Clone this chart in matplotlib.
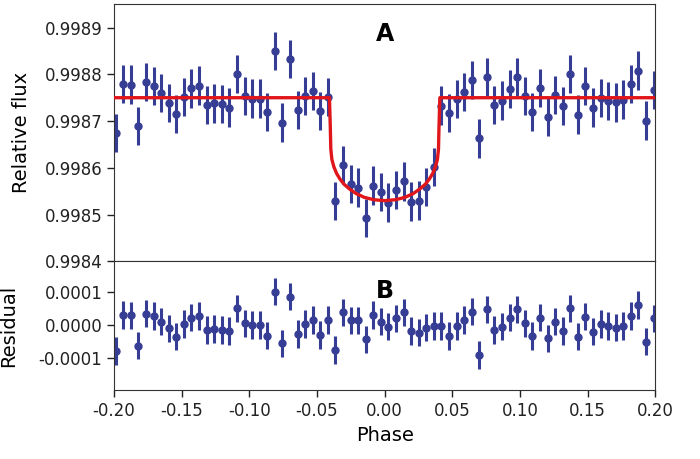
import numpy as np
import matplotlib
matplotlib.use("Agg")
import matplotlib.pyplot as plt
from matplotlib.ticker import FormatStrFormatter, MultipleLocator

# binned phase-folded light curve
phase = [-0.1988, -0.1932, -0.1876, -0.1820, -0.1764, -0.1708, -0.1652, -0.1596,
         -0.1540, -0.1484, -0.1428, -0.1372, -0.1316, -0.1260, -0.1204, -0.1148,
         -0.1092, -0.1036, -0.0980, -0.0924, -0.0868, -0.0812, -0.0756, -0.0700,
         -0.0644, -0.0588, -0.0532, -0.0476, -0.0420, -0.0364, -0.0308, -0.0252,
         -0.0196, -0.0140, -0.0084, -0.0028, 0.0028, 0.0084, 0.0140, 0.0196,
         0.0252, 0.0308, 0.0364, 0.0420, 0.0476, 0.0532, 0.0588, 0.0644,
         0.0700, 0.0756, 0.0812, 0.0868, 0.0924, 0.0980, 0.1036, 0.1092,
         0.1148, 0.1204, 0.1260, 0.1316, 0.1372, 0.1428, 0.1484, 0.1540,
         0.1596, 0.1652, 0.1708, 0.1764, 0.1820, 0.1876, 0.1932, 0.1988]

flux = [0.998674, 0.998779, 0.998778, 0.998689, 0.998784, 0.998775, 0.998760, 0.998739,
        0.998715, 0.998752, 0.998770, 0.998776, 0.998734, 0.998738, 0.998736, 0.998729,
        0.998801, 0.998754, 0.998748, 0.998748, 0.998719, 0.998850, 0.998697, 0.998833,
        0.998724, 0.998754, 0.998764, 0.998722, 0.998752, 0.998529, 0.998606, 0.998566,
        0.998558, 0.998493, 0.998562, 0.998548, 0.998526, 0.998553, 0.998571, 0.998528,
        0.998530, 0.998559, 0.998602, 0.998733, 0.998717, 0.998747, 0.998762, 0.998788,
        0.998663, 0.998794, 0.998735, 0.998744, 0.998769, 0.998794, 0.998754, 0.998719,
        0.998771, 0.998709, 0.998756, 0.998732, 0.998801, 0.998714, 0.998775, 0.998729,
        0.998750, 0.998743, 0.998740, 0.998746, 0.998779, 0.998808, 0.998701, 0.998767]

resid = [-0.000078, 0.000030, 0.000029, -0.000062, 0.000034, 0.000027, 0.000010, -0.000010,
         -0.000035, 0.000003, 0.000022, 0.000027, -0.000015, -0.000012, -0.000015, -0.000018,
         0.000050, 0.000005, 0.000000, 0.000000, -0.000032, 0.000100, -0.000055, 0.000085,
         -0.000027, 0.000003, 0.000015, -0.000030, 0.000015, -0.000075, 0.000038, 0.000014,
         0.000014, -0.000043, 0.000030, 0.000010, -0.000005, 0.000020, 0.000038, -0.000018,
         -0.000023, -0.000008, -0.000003, -0.000003, -0.000033, -0.000003, 0.000015, 0.000040,
         -0.000090, 0.000047, -0.000015, -0.000005, 0.000022, 0.000047, 0.000005, -0.000033,
         0.000022, -0.000040, 0.000010, -0.000018, 0.000050, -0.000035, 0.000025, -0.000020,
         0.000003, -0.000003, -0.000008, -0.000003, 0.000027, 0.000060, -0.000050, 0.000020]

flux_err = 0.000041

# transit model, left half (mirrored for the right half)
model_phase_half = [-0.2, -0.0408, -0.0402, -0.0398, -0.0390, -0.0375, -0.0355,
                    -0.0330, -0.0300, -0.0260, -0.0210, -0.0150, -0.0080]
model_flux_half = [0.99875, 0.99875, 0.99869, 0.99864, 0.998618, 0.998602, 0.998588,
                   0.998576, 0.998565, 0.998555, 0.998545, 0.998537, 0.998532]
model_center = 0.99853

model_phase = model_phase_half + [0.0] + [-p for p in model_phase_half[::-1]]
model_flux = model_flux_half + [model_center] + model_flux_half[::-1]

pt_color = '#363d94'
line_color = '#e0161b'

fig = plt.figure(figsize=(7, 4.59), dpi=100)
gs = fig.add_gridspec(2, 1, height_ratios=[2, 1], hspace=0,
                      left=0.163, right=0.936, top=0.991, bottom=0.150)
ax1 = fig.add_subplot(gs[0])
ax2 = fig.add_subplot(gs[1], sharex=ax1)

ax1.errorbar(phase, flux, yerr=flux_err, fmt='o', color=pt_color, ms=5,
             elinewidth=2.2, capsize=0, zorder=2)
ax1.plot(model_phase, model_flux, color=line_color, lw=2.4, zorder=3)
ax1.set_ylim(0.9984, 0.99895)
ax1.yaxis.set_major_locator(MultipleLocator(0.0001))
ax1.yaxis.set_major_formatter(FormatStrFormatter('%.4f'))
ax1.set_ylabel('Relative flux', fontsize=14, labelpad=10)
ax1.tick_params(axis='x', bottom=False, labelbottom=False)
ax1.text(0.5, 0.93, 'A', transform=ax1.transAxes, ha='center', va='top',
         fontsize=17, fontweight='bold')

ax2.errorbar(phase, resid, yerr=flux_err, fmt='o', color=pt_color, ms=5,
             elinewidth=2.2, capsize=0)
ax2.set_ylim(-0.000195, 0.00019)
ax2.yaxis.set_major_locator(MultipleLocator(0.0001))
ax2.yaxis.set_major_formatter(FormatStrFormatter('%.4f'))
ax2.set_ylabel('Residual', fontsize=14, labelpad=15)
ax2.set_xlabel('Phase', fontsize=14)
ax2.set_xlim(-0.2, 0.2)
ax2.xaxis.set_major_locator(MultipleLocator(0.05))
ax2.xaxis.set_major_formatter(FormatStrFormatter('%.2f'))
ax2.text(0.5, 0.86, 'B', transform=ax2.transAxes, ha='center', va='top',
         fontsize=17, fontweight='bold')

for ax in (ax1, ax2):
    ax.tick_params(labelsize=12, length=5, width=1, colors='#222222')
    for s in ax.spines.values():
        s.set_color('#333333')

fig.savefig('out.png', dpi=100)
